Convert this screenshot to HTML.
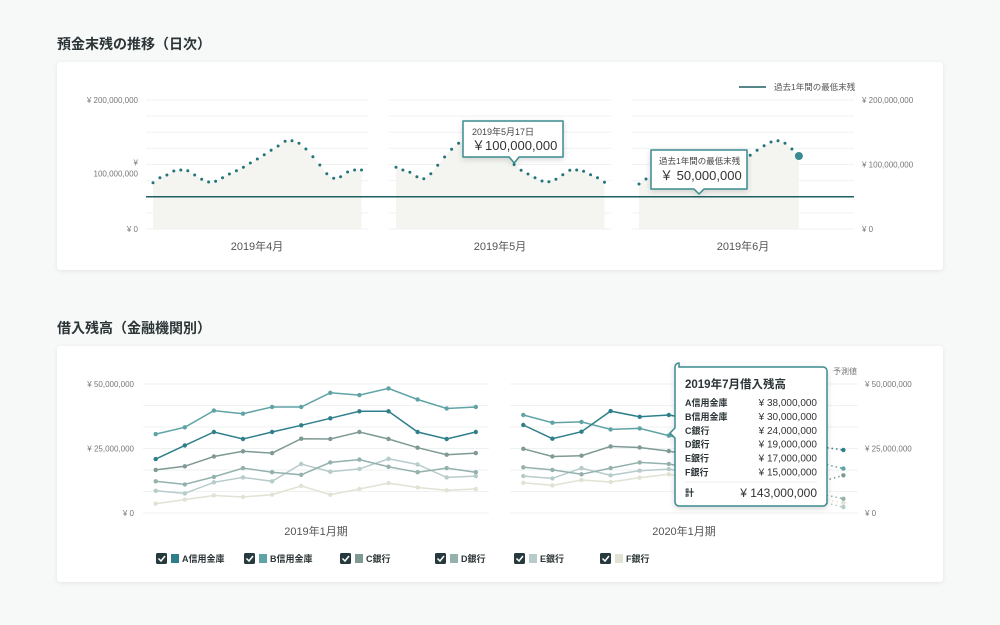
<!DOCTYPE html>
<html><head><meta charset="utf-8"><style>
html,body{margin:0;padding:0;background:#f7f8f8;}
svg{display:block;font-family:"Liberation Sans","Noto Sans CJK JP",sans-serif;}
</style></head><body>
<svg id="s" width="1000" height="625" viewBox="0 0 1000 625" xmlns="http://www.w3.org/2000/svg">
<defs>
<filter id="sh" x="-5%" y="-10%" width="110%" height="130%"><feDropShadow dx="0" dy="1" stdDeviation="2" flood-color="#000" flood-opacity="0.08"/></filter>
<filter id="sh2" x="-20%" y="-20%" width="140%" height="140%"><feDropShadow dx="0" dy="2" stdDeviation="3" flood-color="#000" flood-opacity="0.15"/></filter>
</defs>
<rect width="1000" height="625" fill="#f7f8f8"/>
<text x="57" y="49" font-size="14" font-weight="bold" fill="#2b3436">預金末残の推移（日次）</text>
<rect x="57" y="62" width="886" height="208" rx="3" fill="#fff" filter="url(#sh)"/>
<text x="57" y="333" font-size="14" font-weight="bold" fill="#2b3436">借入残高（金融機関別）</text>
<rect x="57" y="346" width="886" height="236" rx="3" fill="#fff" filter="url(#sh)"/>
<g id="c1"></g>
<g id="c2"></g>
</svg>
<script>
// ---- Chart 1 data ----
const months1 = ["2019年4月","2019年5月","2019年6月"];
const aprVals = [71.8,79.6,83.7,89.9,91.5,90.4,83.7,77,72.9,73.9,79.6,85.3,90.4,95.6,102.3,108.5,115.2,122,128.7,135.9,136.9,132.8,124,112.1,99.2,85.8,78.6,81.1,88.4,91.5,91.5];
const mayVals = [95.6,91.5,87.9,81.1,78,85.8,98.7,111.6,123.5,132.8,138,142,144,142,136,126,113,100,91,85.3,79.6,74.4,73.4,77,84.2,91,91.5,89.4,84.2,79.6,72.4];
const junVals = [69.8,77.5,82,86,89,91,92,93,93,94,95,97,99,102,106,110,114.3,122,129.2,134.9,136.9,132.8,124,113.2];
const minBalance = 50;
const ticks1 = [0,100,200];
const tick1Labels = ["¥ 0","¥ 100,000,000","¥ 200,000,000"];
// ---- Chart 2 data ----
const banks = ["A信用金庫","B信用金庫","C銀行","D銀行","E銀行","F銀行"];
const p1A=[20.9,26.2,31.4,28.7,31.4,34,36.7,39.4,39.4,31.4,28.7,31.4];
const p1B=[30.6,33.2,39.7,38.5,41.1,41.1,46.6,45.7,48.3,44,40.5,41.1];
const p1C=[16.7,18.1,21.9,23.9,23.2,28.8,28.7,31.4,28.7,25.3,22.6,23.2];
const p1D=[12.3,11.1,14,17.4,15.8,14.8,19.6,20.7,17.9,15.8,17.4,15.8];
const p1E=[8.6,7.6,11.9,13.8,12.3,19,16,17.1,21,18.8,13.8,14.3];
const p1F=[3.6,5.2,6.8,6.2,7.1,10.5,7.1,9.3,11.6,9.9,8.8,9.3];
const p2A=[34.1,28.8,31.5,39.5,37.3,38,36,33,30,28,26,24.4];
const p2B=[38,35,35.3,32.4,32.8,30,28,26,24,22,19.9,17.2];
const p2C=[24.9,21.9,22.2,25.8,25.4,24,22,20,18,15,11.4,14.6];
const p2D=[17.7,16.7,15,17.4,19.6,19,17,15,12,9,8,5.5];
const p2E=[14.3,13.4,17.4,14.6,16.4,17,15,12,9,6,5,2.3];
const p2F=[11.7,10.7,12.8,12,13.7,15,13,11,8,6,6,3.9];
const tooltipVals=["¥ 38,000,000","¥ 30,000,000","¥ 24,000,000","¥ 19,000,000","¥ 17,000,000","¥ 15,000,000"];
const tooltipTotal="¥ 143,000,000";
const ticks2=[0,25,50];
const tick2Labels=["¥ 0","¥ 25,000,000","¥ 50,000,000"];
const periods=["2019年1月期","2020年1月期"];

const NS="http://www.w3.org/2000/svg";
function mk(parent,tag,attrs,text){const e=document.createElementNS(NS,tag);for(const k in attrs)e.setAttribute(k,attrs[k]);if(text!==undefined)e.textContent=text;parent.appendChild(e);return e;}

// ---- Chart 1 ----
const c1=document.getElementById('c1');
const y1=v=>229-v/200*129;
const panels1=[{g0:146,g1:368,x0:153,vals:aprVals},{g0:389,g1:611,x0:396,vals:mayVals},{g0:632,g1:854,x0:639,vals:junVals}];
const step1=6.95;
panels1.forEach((p,pi)=>{
  for(let i=0;i<=8;i++){const gv=i*25;
    const l=mk(c1,'line',{x1:p.g0,x2:p.g1,y1:y1(gv),y2:y1(gv),stroke:'#eef3f2','stroke-width':1});
    
    }
  let d='M'+p.x0+' '+y1(0);
  p.vals.forEach((v,i)=>{d+=' L'+(p.x0+i*step1).toFixed(1)+' '+y1(v).toFixed(1);});
  d+=' L'+(p.x0+(p.vals.length-1)*step1).toFixed(1)+' '+y1(0)+' Z';
  const a=mk(c1,'path',{d:d,fill:'#f4f5f0'});
  
  
  p.vals.forEach((v,i)=>{
    const last=(pi===2&&i===p.vals.length-1);
    const c=mk(c1,'circle',{cx:(p.x0+i*step1).toFixed(1),cy:y1(v).toFixed(1),r:last?4:1.5,fill:last?'#3a8a90':'#23747c'});
    
    
  });
  const t=mk(c1,'text',{x:(p.g0+p.g1)/2,y:250,'font-size':11,fill:'#555','text-anchor':'middle'},months1[pi]);
  
  
});
const ml=mk(c1,'line',{x1:146,x2:854,y1:y1(minBalance),y2:y1(minBalance),stroke:'#1f5f63','stroke-width':1.5});


ticks1.forEach((tv,i)=>{
  if(tv===100){
    const a=mk(c1,'text',{x:138,y:y1(tv)+1,'font-size':8,fill:'#777','text-anchor':'end'},'¥');
    
    
    const b=mk(c1,'text',{x:138,y:y1(tv)+12,'font-size':8,fill:'#777','text-anchor':'end'},'100,000,000');
    
    
  } else {
    const a=mk(c1,'text',{x:138,y:y1(tv)+3,'font-size':8,fill:'#777','text-anchor':'end'},tick1Labels[i]);
    
    
  }
  const r=mk(c1,'text',{x:862,y:y1(tv)+3,'font-size':8,fill:'#777'},tick1Labels[i]);
  
  
});
const lg=mk(c1,'line',{x1:739,x2:766,y1:87,y2:87,stroke:'#1f5f63','stroke-width':1.5});


const lt=mk(c1,'text',{x:774,y:90,'font-size':8.5,fill:'#555'},'過去1年間の最低末残');


// tooltip May
(function(){
  const g=mk(c1,'g',{});
  
  
  const px=396+17*step1, py=y1(mayVals[17]);
  mk(g,'path',{d:`M463 121 h100 v36 h-${563-px-5} l-5 6 l-5 -6 h-${px-5-463} Z`,fill:'#fff',stroke:'#3a8a90','stroke-width':1.5,'stroke-linejoin':'round',filter:'url(#sh2)'});
  mk(g,'text',{x:472,y:135,'font-size':9,fill:'#444'},'2019年5月17日');
  mk(g,'text',{x:472,y:150,'font-size':13,fill:'#333'},'￥100,000,000');
})();
// tooltip min
(function(){
  const g=mk(c1,'g',{});
  
  
  mk(g,'path',{d:'M651 150 h96 v39 h-43 l-5 5 l-5 -5 h-43 Z',fill:'#fff',stroke:'#3a8a90','stroke-width':1.5,'stroke-linejoin':'round',filter:'url(#sh2)'});
  mk(g,'text',{x:659,y:164,'font-size':8.5,fill:'#444'},'過去1年間の最低末残');
  mk(g,'text',{x:660,y:180,'font-size':13,fill:'#333'},'￥ 50,000,000');
})();

// ---- Chart 2 ----
const c2=document.getElementById('c2');
const y2=v=>513-v/50*129;
const colors=['#2f7f8a','#5fa3a6','#7f9995','#94b1ad','#b7cbcb','#e0e3d3'];
const p1s=[p1A,p1B,p1C,p1D,p1E,p1F], p2s=[p2A,p2B,p2C,p2D,p2E,p2F];
const panels2=[{g0:143,g1:489,x0:155.7,sets:p1s,solidTo:11},{g0:510,g1:858,x0:523.3,sets:p2s,solidTo:8}];
const step2=29.1;
panels2.forEach((p,pi)=>{
  for(let i=0;i<=6;i++){const gv=i*50/6;
    const l=mk(c2,'line',{x1:p.g0,x2:p.g1,y1:y2(gv),y2:y2(gv),stroke:'#eef3f2','stroke-width':1});
    
    }
  for(let s=5;s>=0;s--){
    const vals=p.sets[s];
    let d='';
    for(let i=0;i<=p.solidTo;i++){d+=(i?' L':'M')+(p.x0+i*step2).toFixed(1)+' '+y2(vals[i]).toFixed(1);}
    const ln=mk(c2,'path',{d:d,fill:'none',stroke:colors[s],'stroke-width':1.5});
    
    
    if(p.solidTo<vals.length-1){
      let dd='';
      for(let i=p.solidTo;i<vals.length;i++){dd+=(i>p.solidTo?' L':'M')+(p.x0+i*step2).toFixed(1)+' '+y2(vals[i]).toFixed(1);}
      const fl=mk(c2,'path',{d:dd,fill:'none',stroke:colors[s],'stroke-width':1.5,'stroke-dasharray':'1.5 3'});
      
      
    }
    vals.forEach((v,i)=>{
      if(pi===1&&i>p.solidTo&&i<vals.length-1)return;
      const c=mk(c2,'circle',{cx:(p.x0+i*step2).toFixed(1),cy:y2(v).toFixed(1),r:2.2,fill:colors[s]});
      
      
    });
  }
  const t=mk(c2,'text',{x:(p.g0+p.g1)/2,y:535,'font-size':11,fill:'#555','text-anchor':'middle'},periods[pi]);
  
  
});
ticks2.forEach((tv,i)=>{
  const a=mk(c2,'text',{x:134,y:y2(tv)+3,'font-size':8,fill:'#777','text-anchor':'end'},tick2Labels[i]);
  
  
  const b=mk(c2,'text',{x:865,y:y2(tv)+3,'font-size':8,fill:'#777'},tick2Labels[i]);
  
  
});
const fc=mk(c2,'text',{x:833,y:374,'font-size':8,fill:'#777'},'予測値');


// tooltip
(function(){
  const g=mk(c2,'g',{});
  
  
  mk(g,'path',{d:'M679 367 h144 a4 4 0 0 1 4 4 v131 a4 4 0 0 1 -4 4 h-144 a4 4 0 0 1 -4 -4 v-64 l-5 -5 l5 -5 v-61 a4 4 0 0 1 4 -4 Z',fill:'#fff',stroke:'#3a8a90','stroke-width':1.5,filter:'url(#sh2)'});
  mk(g,'text',{x:685,y:388,'font-size':11.5,'font-weight':'bold',fill:'#2b3436'},'2019年7月借入残高');
  banks.forEach((b,i)=>{
    mk(g,'text',{x:685,y:406+i*13.9,'font-size':9,'font-weight':'bold',fill:'#2b3436'},b);
    mk(g,'text',{x:817,y:406+i*13.9,'font-size':10,fill:'#333','text-anchor':'end'},tooltipVals[i]);
  });
  mk(g,'line',{x1:685,x2:817,y1:482,y2:482,stroke:'#eee'});
  mk(g,'text',{x:685,y:496,'font-size':9,'font-weight':'bold',fill:'#2b3436'},'計');
  mk(g,'text',{x:817,y:497,'font-size':12,fill:'#333','text-anchor':'end'},tooltipTotal);
})();
// legend
const legX=[156,244,340,435,514,600];
banks.forEach((b,i)=>{
  const g=mk(c2,'g',{});
  
  
  mk(g,'rect',{x:legX[i],y:553,width:11,height:11,rx:1.5,fill:'#263a3d'});
  mk(g,'path',{d:`M${legX[i]+2.5} ${558.5} l2.5 2.5 l4 -5`,fill:'none',stroke:'#fff','stroke-width':1.5});
  mk(g,'rect',{x:legX[i]+15,y:554,width:8,height:9,fill:colors[i]});
  mk(g,'text',{x:legX[i]+26,y:562,'font-size':9,'font-weight':'bold',fill:'#2b3436'},b);
});
</script>
</body></html>
